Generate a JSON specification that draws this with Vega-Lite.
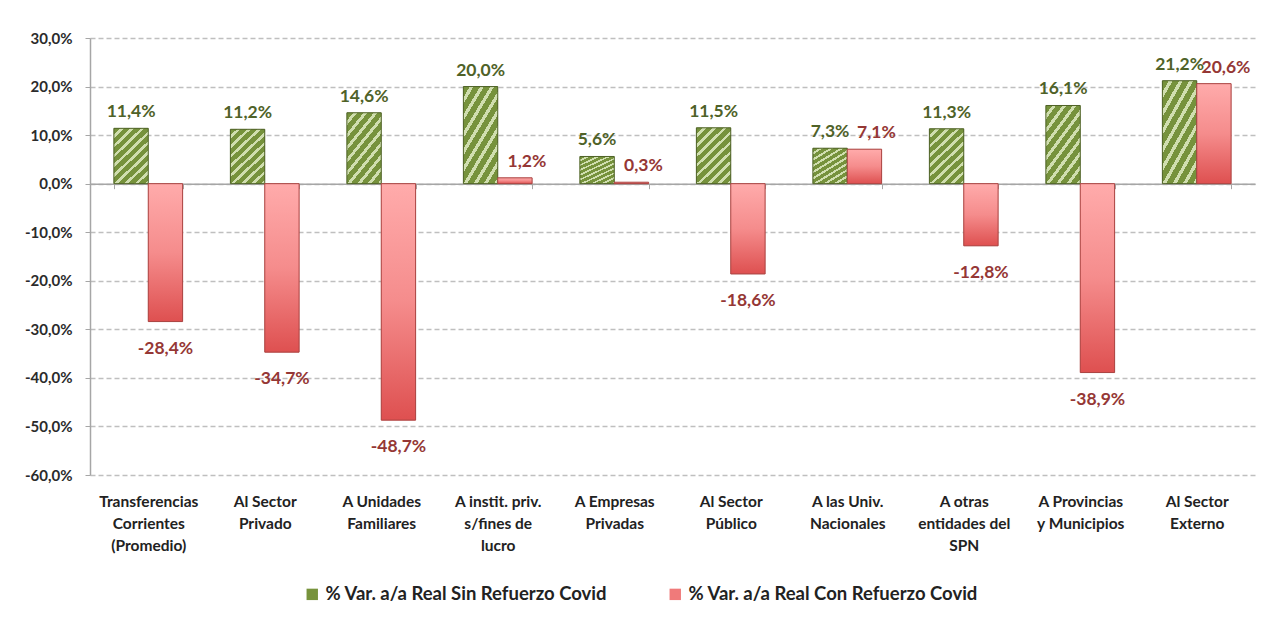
{
  "$schema": "https://vega.github.io/schema/vega-lite/v6.json",
  "autosize": "none",
  "width": 1165,
  "height": 437,
  "padding": {"left": 90, "top": 38, "right": 10, "bottom": 146},
  "background": "white",
  "config": {
    "locale": {"number": {"decimal": ",", "thousands": ".", "grouping": [3], "currency": ["$", ""], "minus": "-"}},
    "view": {"stroke": null},
    "font": "Lato"
  },
  "data": {
    "values": [
      {"cat": "Transferencias\nCorrientes\n(Promedio)", "serie": "% Var. a/a Real Sin Refuerzo Covid", "v": 0.114},
      {"cat": "Al Sector\nPrivado", "serie": "% Var. a/a Real Sin Refuerzo Covid", "v": 0.112},
      {"cat": "A Unidades\nFamiliares", "serie": "% Var. a/a Real Sin Refuerzo Covid", "v": 0.146},
      {"cat": "A instit. priv.\ns/fines de\nlucro", "serie": "% Var. a/a Real Sin Refuerzo Covid", "v": 0.200},
      {"cat": "A Empresas\nPrivadas", "serie": "% Var. a/a Real Sin Refuerzo Covid", "v": 0.056},
      {"cat": "Al Sector\nPúblico", "serie": "% Var. a/a Real Sin Refuerzo Covid", "v": 0.115},
      {"cat": "A las Univ.\nNacionales", "serie": "% Var. a/a Real Sin Refuerzo Covid", "v": 0.073},
      {"cat": "A otras\nentidades del\nSPN", "serie": "% Var. a/a Real Sin Refuerzo Covid", "v": 0.113},
      {"cat": "A Provincias\ny Municipios", "serie": "% Var. a/a Real Sin Refuerzo Covid", "v": 0.161},
      {"cat": "Al Sector\nExterno", "serie": "% Var. a/a Real Sin Refuerzo Covid", "v": 0.212},
      {"cat": "Transferencias\nCorrientes\n(Promedio)", "serie": "% Var. a/a Real Con Refuerzo Covid", "v": -0.284},
      {"cat": "Al Sector\nPrivado", "serie": "% Var. a/a Real Con Refuerzo Covid", "v": -0.347},
      {"cat": "A Unidades\nFamiliares", "serie": "% Var. a/a Real Con Refuerzo Covid", "v": -0.487},
      {"cat": "A instit. priv.\ns/fines de\nlucro", "serie": "% Var. a/a Real Con Refuerzo Covid", "v": 0.012},
      {"cat": "A Empresas\nPrivadas", "serie": "% Var. a/a Real Con Refuerzo Covid", "v": 0.003},
      {"cat": "Al Sector\nPúblico", "serie": "% Var. a/a Real Con Refuerzo Covid", "v": -0.186},
      {"cat": "A las Univ.\nNacionales", "serie": "% Var. a/a Real Con Refuerzo Covid", "v": 0.071},
      {"cat": "A otras\nentidades del\nSPN", "serie": "% Var. a/a Real Con Refuerzo Covid", "v": -0.128},
      {"cat": "A Provincias\ny Municipios", "serie": "% Var. a/a Real Con Refuerzo Covid", "v": -0.389},
      {"cat": "Al Sector\nExterno", "serie": "% Var. a/a Real Con Refuerzo Covid", "v": 0.206}
    ]
  },
  "encoding": {
    "x": {
      "field": "cat", "type": "nominal", "sort": null,
      "scale": {"paddingInner": 0.41, "paddingOuter": 0.205},
      "axis": {
        "title": null, "orient": "bottom", "offset": -291.33, "labelPadding": 306,
        "tickSize": 5, "tickBand": "extent", "tickColor": "#A6A6A6", "domainColor": "#A6A6A6", "domainWidth": 1.5,
        "labelAngle": 0, "labelBaseline": "top", "labelFont": "Lato", "labelFontWeight": "bold", "labelFontSize": 15.5,
        "labelColor": "#222222", "labelLineHeight": 22, "labelLimit": 200,
        "labelExpr": "split(datum.label, '\\n')", "grid": false
      }
    },
    "xOffset": {
      "field": "serie", "type": "nominal",
      "scale": {"domain": ["% Var. a/a Real Sin Refuerzo Covid", "% Var. a/a Real Con Refuerzo Covid"], "paddingInner": 0}
    },
    "y": {
      "field": "v", "type": "quantitative",
      "scale": {"domain": [-0.6, 0.3], "nice": false, "zero": false},
      "axis": {
        "title": null, "format": ".1%", "values": [-0.6, -0.5, -0.4, -0.3, -0.2, -0.1, 0, 0.1, 0.2, 0.3],
        "domainColor": "#A6A6A6", "domainWidth": 1.5, "tickColor": "#A6A6A6", "tickSize": 5,
        "labelPadding": 13, "labelFont": "Lato", "labelFontWeight": "bold", "labelFontSize": 15, "labelColor": "#2B2B2B",
        "grid": true, "gridDash": [5, 3], "gridColor": "#BFBFBF", "gridWidth": 1.5
      }
    }
  },
  "layer": [
    {
      "mark": {"type": "bar"},
      "encoding": {
        "color": {
          "field": "serie", "type": "nominal",
          "scale": {"domain": ["% Var. a/a Real Sin Refuerzo Covid", "% Var. a/a Real Con Refuerzo Covid"], "range": ["#77933C", "#F07A7A"]},
          "legend": {
            "title": null, "orient": "none", "direction": "horizontal", "legendX": 213, "legendY": 547,
            "symbolType": "square", "symbolSize": 130, "symbolStrokeWidth": 0, "labelFont": "Lato", "labelFontWeight": "bold",
            "labelFontSize": 18.5, "labelColor": "#222222", "columnPadding": 58, "labelOffset": 4, "labelLimit": 400
          }
        }
      }
    },
    {
      "transform": [{"filter": "datum.serie == '% Var. a/a Real Sin Refuerzo Covid'"}],
      "mark": {
        "type": "bar", "stroke": "#4F6228", "strokeWidth": 1,
        "fill": {
          "gradient": "linear", "x1": 0, "y1": 0, "x2": 0.7, "y2": 1.18,
          "stops": [
            {"offset": 0, "color": "#76923C"}, {"offset": 0.07, "color": "#76923C"}, {"offset": 0.07, "color": "#D0DEAF"}, {"offset": 0.1111, "color": "#D0DEAF"},
            {"offset": 0.1111, "color": "#76923C"}, {"offset": 0.1811, "color": "#76923C"}, {"offset": 0.1811, "color": "#D0DEAF"}, {"offset": 0.2222, "color": "#D0DEAF"},
            {"offset": 0.2222, "color": "#76923C"}, {"offset": 0.2922, "color": "#76923C"}, {"offset": 0.2922, "color": "#D0DEAF"}, {"offset": 0.3333, "color": "#D0DEAF"},
            {"offset": 0.3333, "color": "#76923C"}, {"offset": 0.4033, "color": "#76923C"}, {"offset": 0.4033, "color": "#D0DEAF"}, {"offset": 0.4444, "color": "#D0DEAF"},
            {"offset": 0.4444, "color": "#76923C"}, {"offset": 0.5144, "color": "#76923C"}, {"offset": 0.5144, "color": "#D0DEAF"}, {"offset": 0.5556, "color": "#D0DEAF"},
            {"offset": 0.5556, "color": "#76923C"}, {"offset": 0.6256, "color": "#76923C"}, {"offset": 0.6256, "color": "#D0DEAF"}, {"offset": 0.6667, "color": "#D0DEAF"},
            {"offset": 0.6667, "color": "#76923C"}, {"offset": 0.7367, "color": "#76923C"}, {"offset": 0.7367, "color": "#D0DEAF"}, {"offset": 0.7778, "color": "#D0DEAF"},
            {"offset": 0.7778, "color": "#76923C"}, {"offset": 0.8478, "color": "#76923C"}, {"offset": 0.8478, "color": "#D0DEAF"}, {"offset": 0.8889, "color": "#D0DEAF"},
            {"offset": 0.8889, "color": "#76923C"}, {"offset": 0.9589, "color": "#76923C"}, {"offset": 0.9589, "color": "#D0DEAF"}, {"offset": 1, "color": "#D0DEAF"}
          ]
        }
      }
    },
    {
      "transform": [{"filter": "datum.serie == '% Var. a/a Real Con Refuerzo Covid'"}],
      "mark": {
        "type": "bar", "stroke": "#A94442", "strokeWidth": 1,
        "fill": {
          "gradient": "linear", "x1": 0, "y1": 0, "x2": 0, "y2": 1,
          "stops": [{"offset": 0, "color": "#FFABAB"}, {"offset": 0.5, "color": "#F58C8C"}, {"offset": 1, "color": "#DE5050"}]
        }
      }
    },
    {
      "transform": [{"filter": "datum.serie == '% Var. a/a Real Sin Refuerzo Covid'"}],
      "mark": {"type": "text", "baseline": "bottom", "dy": -7, "font": "Lato", "fontWeight": "bold", "fontSize": 17.5, "color": "#4F6228"},
      "encoding": {"text": {"field": "v", "type": "quantitative", "format": ".1%"}}
    },
    {
      "transform": [{"filter": "datum.serie == '% Var. a/a Real Con Refuerzo Covid' && datum.v >= 0"}],
      "mark": {"type": "text", "baseline": "bottom", "dy": -7, "dx": 12, "font": "Lato", "fontWeight": "bold", "fontSize": 17.5, "color": "#953735"},
      "encoding": {"text": {"field": "v", "type": "quantitative", "format": ".1%"}}
    },
    {
      "transform": [{"filter": "datum.serie == '% Var. a/a Real Con Refuerzo Covid' && datum.v < 0"}],
      "mark": {"type": "text", "baseline": "top", "dy": 18, "font": "Lato", "fontWeight": "bold", "fontSize": 17.5, "color": "#953735"},
      "encoding": {"text": {"field": "v", "type": "quantitative", "format": ".1%"}}
    }
  ]
}
